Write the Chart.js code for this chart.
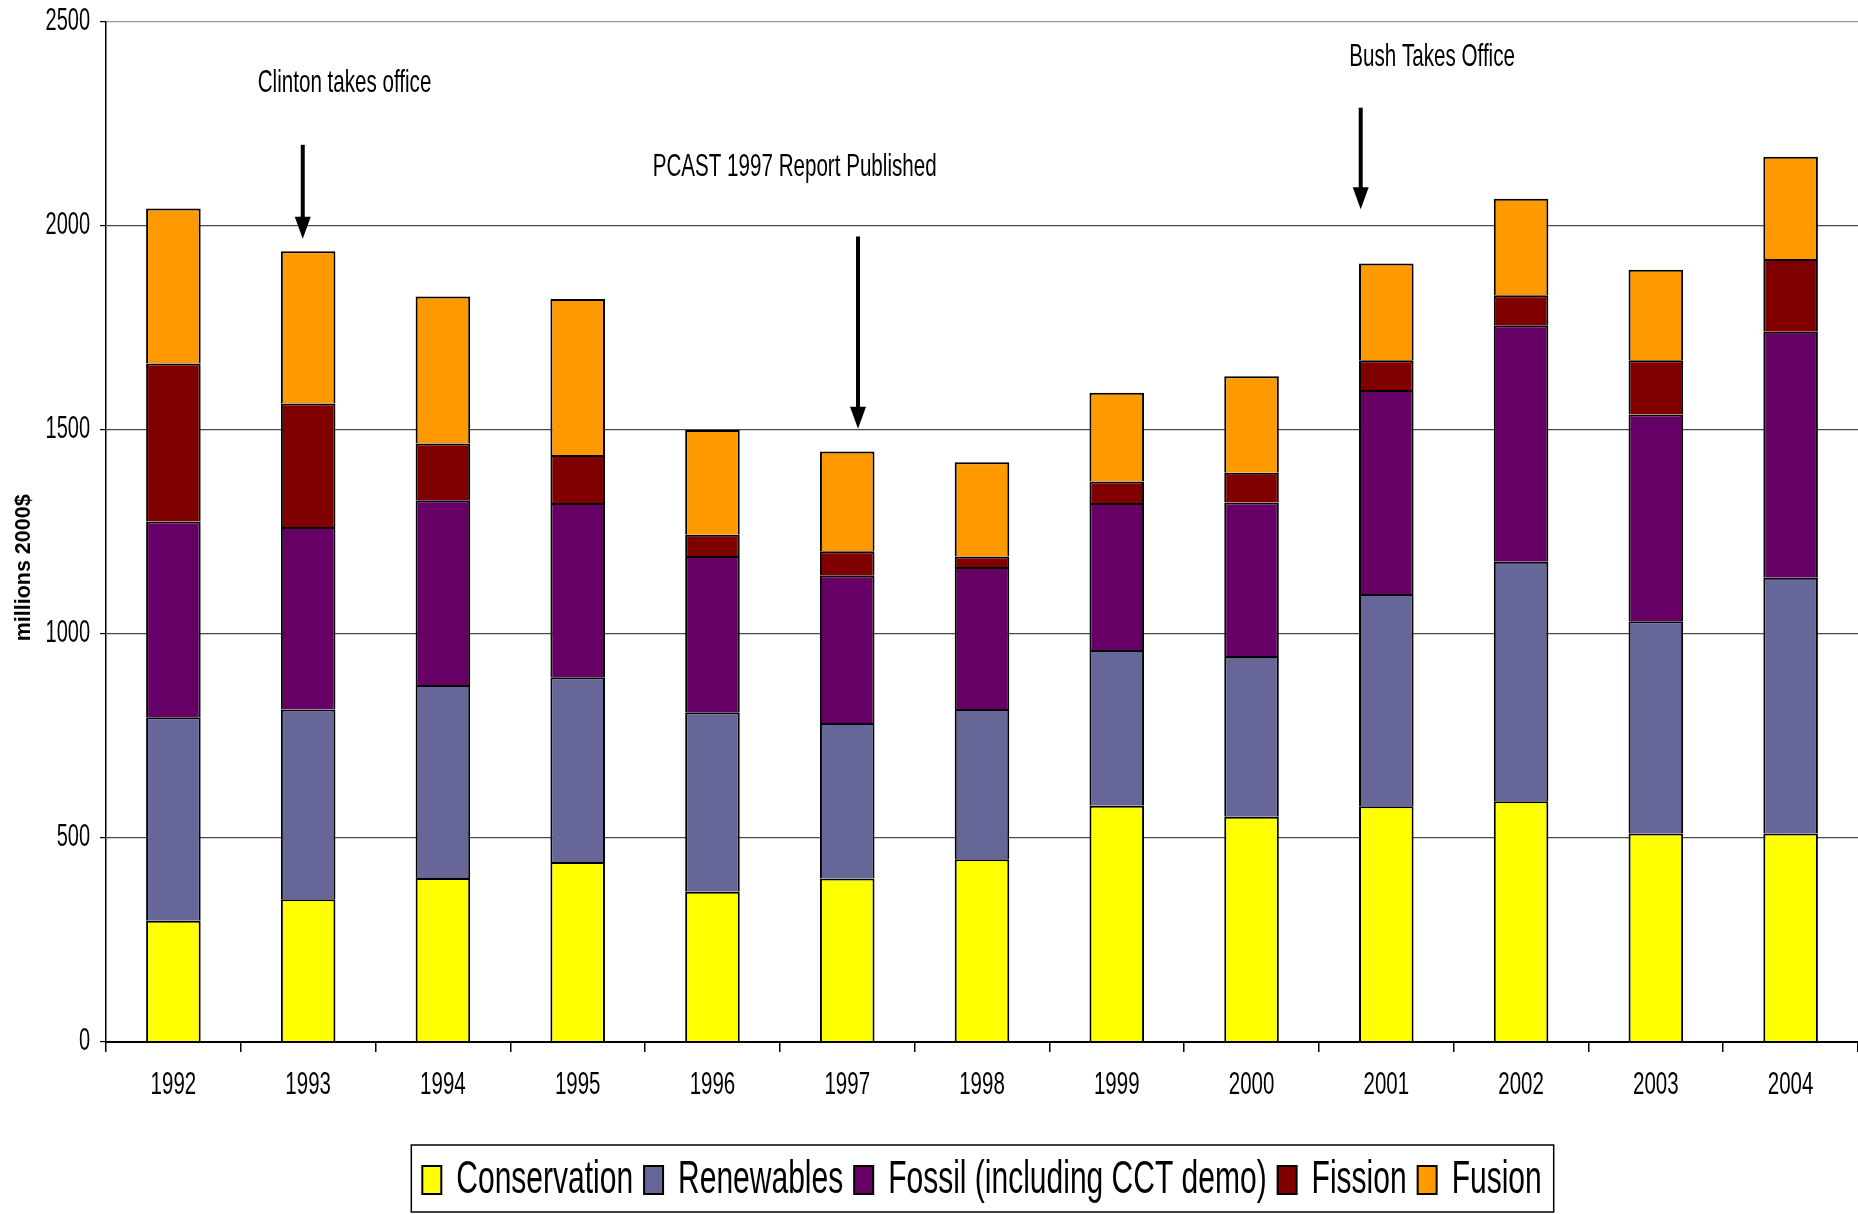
<!DOCTYPE html>
<html>
<head>
<meta charset="utf-8">
<title>DOE energy R&amp;D budget 1992-2004</title>
<script src="https://cdn.jsdelivr.net/npm/chart.js@4.4.1/dist/chart.umd.min.js"></script>
<style>
  html, body { margin: 0; padding: 0; background: #ffffff; }
  #wrap { width: 1858px; height: 1214px; }
  canvas { display: block; }
</style>
</head>
<body>
<div id="wrap"><canvas id="chart" width="1858" height="1214"></canvas></div>
<script>
// Fiscal years on the category axis
const years = ['1992', '1993', '1994', '1995', '1996', '1997', '1998', '1999', '2000', '2001', '2002', '2003', '2004'];

// Spending by programme, millions of 2000 dollars
const conservation = [297, 350, 402, 441, 368, 401, 448, 579, 552, 578, 590, 511, 511];
const renewables   = [499, 465, 473, 453, 440, 381, 368, 382, 394, 520, 587, 520, 627];
const fossil       = [480, 447, 453, 427, 383, 362, 348, 360, 376, 500, 580, 507, 603];
const fission      = [387, 303, 139, 118,  52,  59,  26,  53,  73,  73,  73, 133, 178];
const fusion       = [380, 373, 360, 382, 257, 244, 231, 217, 237, 237, 237, 222, 251];

// Value axis ticks
const yTickValues = [0, 500, 1000, 1500, 2000, 2500];

// Event notes: label anchor and arrow, in (category index, value) units
const noteLabels = ['Clinton takes office', 'PCAST 1997 Report Published', 'Bush Takes Office'];
const noteLabelAt = [[1.27, 2350], [4.61, 2144], [9.34, 2413]];
const noteArrowX = [0.96, 5.08, 8.81];
const noteArrowFrom = [2199, 1974, 2290];
const noteArrowTo = [1969, 1503, 2041];

const FONT = "'Liberation Sans', Arial, Helvetica, sans-serif";
const TEXT_STRETCH = 1.53;   // tall, condensed-looking lettering

// Draw horizontal text taller than wide: scale glyphs vertically about the anchor.
function useTallText(ctx) {
  const fillText = ctx.fillText;
  ctx.fillText = function (text, x, y, maxWidth) {
    const t = this.getTransform();
    const rotated = Math.abs(t.b) > 1e-6 || Math.abs(t.c) > 1e-6;
    const k = rotated ? 1 : TEXT_STRETCH;
    this.save();
    this.translate(x, y);
    this.scale(1, k);
    if (maxWidth === undefined) fillText.call(this, text, 0, 0);
    else fillText.call(this, text, 0, 0, maxWidth);
    this.restore();
  };
}

// Frame round the legend row
const legendFrame = {
  id: 'legendFrame',
  afterDraw(chart) {
    const boxes = chart.legend && chart.legend.legendHitBoxes;
    if (!boxes || !boxes.length) return;
    const first = boxes[0];
    const last = boxes[boxes.length - 1];
    const left = first.left - 11;
    const right = last.left + last.width + 12;
    const top = first.top - 20;
    const bottom = first.top + first.height + 17;
    const ctx = chart.ctx;
    ctx.save();
    ctx.strokeStyle = '#000000';
    ctx.lineWidth = 1.5;
    ctx.strokeRect(left, top, right - left, bottom - top);
    ctx.restore();
  }
};

// Policy events with downward arrows
const eventNotes = {
  id: 'eventNotes',
  afterDraw(chart) {
    const ctx = chart.ctx;
    const xs = chart.scales.x;
    const ys = chart.scales.y;
    ctx.save();
    ctx.fillStyle = '#000000';
    ctx.strokeStyle = '#000000';
    ctx.font = '20.6px ' + FONT;
    ctx.textAlign = 'center';
    ctx.textBaseline = 'middle';
    noteLabels.forEach((label, i) => {
      ctx.fillText(label, xs.getPixelForValue(noteLabelAt[i][0]), ys.getPixelForValue(noteLabelAt[i][1]));
      const ax = xs.getPixelForValue(noteArrowX[i]);
      const y0 = ys.getPixelForValue(noteArrowFrom[i]);
      const y1 = ys.getPixelForValue(noteArrowTo[i]);
      const head = 22;
      ctx.lineWidth = 4;
      ctx.beginPath();
      ctx.moveTo(ax, y0);
      ctx.lineTo(ax, y1 - head + 2);
      ctx.stroke();
      ctx.beginPath();
      ctx.moveTo(ax - 8, y1 - head);
      ctx.lineTo(ax + 8, y1 - head);
      ctx.lineTo(ax, y1);
      ctx.closePath();
      ctx.fill();
    });
    ctx.restore();
  }
};

function series(label, data, color) {
  return {
    label: label,
    data: data,
    backgroundColor: color,
    borderColor: '#000000',
    borderWidth: 2,
    borderSkipped: 'start',
    barPercentage: 0.405,
    categoryPercentage: 1.0
  };
}

const canvas = document.getElementById('chart');
useTallText(canvas.getContext('2d'));

Chart.defaults.font.family = FONT;
Chart.defaults.color = '#000000';

new Chart(canvas, {
  type: 'bar',
  data: {
    labels: years,
    datasets: [
      series('Conservation', conservation, '#FFFF00'),
      series('Renewables', renewables, '#666699'),
      series('Fossil (including CCT demo)', fossil, '#660066'),
      series('Fission', fission, '#800000'),
      series('Fusion', fusion, '#FF9900')
    ]
  },
  options: {
    responsive: false,
    devicePixelRatio: 1,
    animation: false,
    layout: { padding: { top: 21, right: 0, bottom: 9, left: 0 } },
    plugins: {
      tooltip: { enabled: false },
      legend: {
        position: 'bottom',
        fullSize: false,
        labels: {
          boxWidth: 19,
          boxHeight: 28,
          padding: 11,
          color: '#000000',
          font: { size: 30 }
        }
      }
    },
    scales: {
      x: {
        stacked: true,
        afterFit(scale) { scale.height = 112; },
        grid: {
          offset: true,
          drawOnChartArea: false,
          drawTicks: true,
          tickLength: 10,
          tickColor: '#000000',
          lineWidth: 1.5
        },
        border: { display: true, color: '#000000', width: 2, z: 1 },
        ticks: {
          color: '#000000',
          font: { size: 20.5 },
          padding: 21,
          maxRotation: 0,
          autoSkip: false
        }
      },
      y: {
        stacked: true,
        min: 0,
        max: 2500,
        afterFit(scale) { scale.width = 106; },
        afterBuildTicks(scale) { scale.ticks = yTickValues.map(v => ({ value: v })); },
        grid: {
          color: (c) => (c.tick && c.tick.value === 2500 ? '#9a9a9a' : '#4a4a4a'),
          lineWidth: 1.2,
          drawTicks: true,
          tickLength: 6,
          tickColor: '#000000'
        },
        border: { display: true, color: '#000000', width: 1.5 },
        ticks: {
          color: '#000000',
          font: { size: 20 },
          padding: 10,
          callback: (v) => String(v)
        },
        title: {
          display: true,
          text: 'millions 2000$' + ' '.repeat(12),
          color: '#000000',
          font: { size: 21.5, weight: 'bold' },
          padding: { top: 11, bottom: 0 }
        }
      }
    }
  },
  plugins: [legendFrame, eventNotes]
});
</script>
</body>
</html>
